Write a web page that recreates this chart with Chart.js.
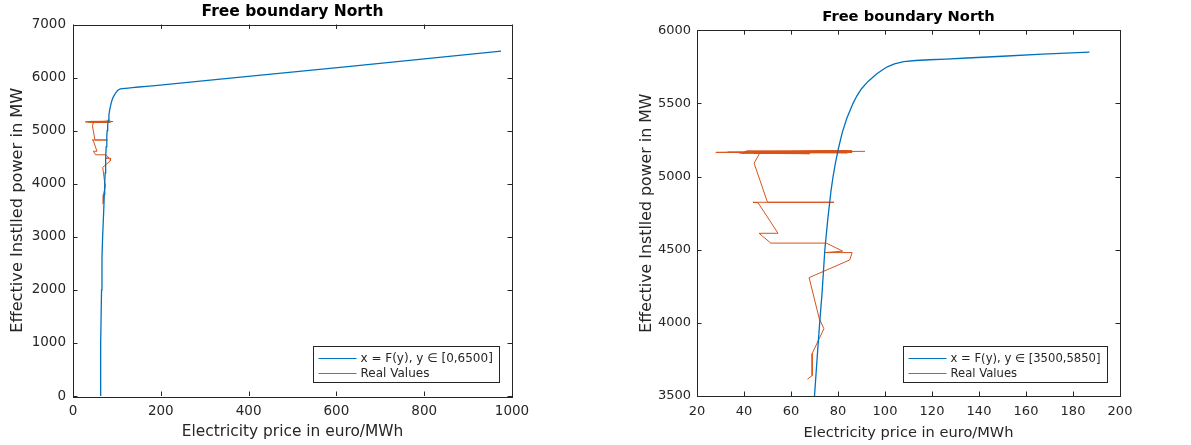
<!DOCTYPE html>
<html>
<head>
<meta charset="utf-8">
<script src="https://cdn.jsdelivr.net/npm/chart.js@4/dist/chart.umd.min.js"></script>
<style>
  body { margin: 0; background: #fff; }
  .panel { position: absolute; top: 0; height: 445px; }
  #left { left: 0; width: 560px; }
  #right { left: 615px; width: 576px; }
</style>
</head>
<body>
<div class="panel" id="left"><canvas id="chartLeft"></canvas></div>
<div class="panel" id="right"><canvas id="chartRight"></canvas></div>
<script>
// Free boundary x = F(y): price (euro/MWh) against effective installed power (MW)
const boundaryPower = [0, 400, 900, 1000, 2000, 2600, 3000, 3500, 3800, 4000, 4200, 4500, 4700, 4900, 5000,
  5100, 5200, 5300, 5400, 5500, 5550, 5600, 5650, 5700, 5730, 5750, 5770, 5785, 5793, 5798,
  5803, 5810, 5822, 5836, 5850, 6000, 6200, 6500];
const boundaryPrice = [62, 62.5, 63, 63.6, 65, 66, 67.5, 70, 71.3, 72.2, 73.2, 74.4, 75.6, 77, 77.9,
  79, 80.3, 81.8, 83.8, 86.4, 88, 90, 92.8, 96.4, 99, 101, 104, 108, 113, 119,
  126, 135, 150, 167, 187, 370, 620, 975];

// Observed (price, power) pairs, in order
const realPrice = [91.5, 28, 85, 39, 86, 40, 84, 33, 86, 44, 68, 39, 85, 41, 84, 38, 86, 46.7, 44.3, 50,
  78.3, 43.8, 46, 54.5, 46.4, 51.4, 75, 82, 74.5, 86, 85, 67.7, 72, 74, 69, 69, 67];
const realPower = [5172, 5165, 5170, 5160, 5176, 5168, 5162, 5166, 5172, 5158, 5156, 5164, 5168, 5174,
  5178, 5161, 5165, 5160, 5091, 4824, 4824, 4824, 4820, 4612, 4612, 4545, 4545, 4490, 4480, 4480,
  4430, 4309, 4030, 3960, 3790, 3640, 3615];

const TITLE = 'Free boundary North';
const X_LABEL = 'Electricity price in euro/MWh';
const Y_LABEL = 'Effective Instlled power in MW';

const BLUE = '#0072BD';
const ORANGE = '#D95319';
const INK = '#262626';
const FONT = '"DejaVu Sans", sans-serif';

function points(xs, ys, lo, hi) {
  const out = [];
  xs.forEach((x, i) => {
    if (ys[i] >= lo && ys[i] <= hi) out.push({x: x, y: ys[i]});
  });
  return out;
}

// box, inward ticks on all four sides, legend inside lower right
const matlabAxes = {
  id: 'matlabAxes',
  afterDraw(chart, args, opts) {
    const {ctx, chartArea: a, scales} = chart;
    const tl = 4.5;
    ctx.save();
    ctx.strokeStyle = INK;
    ctx.lineWidth = 1;
    ctx.strokeRect(Math.round(a.left) + .5, Math.round(a.top) + .5,
      Math.round(a.right - a.left), Math.round(a.bottom - a.top));
    ctx.beginPath();
    scales.x.ticks.forEach(t => {
      const p = Math.round(scales.x.getPixelForValue(t.value)) + .5;
      ctx.moveTo(p, a.bottom); ctx.lineTo(p, a.bottom - tl);
      ctx.moveTo(p, a.top); ctx.lineTo(p, a.top + tl);
    });
    scales.y.ticks.forEach(t => {
      const p = Math.round(scales.y.getPixelForValue(t.value)) + .5;
      ctx.moveTo(a.left, p); ctx.lineTo(a.left + tl, p);
      ctx.moveTo(a.right, p); ctx.lineTo(a.right - tl, p);
    });
    ctx.stroke();

    // legend
    const ds = chart.data.datasets;
    ctx.font = opts.legendSize + 'px ' + FONT;
    const tw = Math.max(...ds.map(d => ctx.measureText(d.label).width));
    const sample = 38;
    const w = Math.round(5 + sample + 4 + tw + 7);
    const h = 36;
    const bx = Math.round(a.right - opts.legendRight - w) + .5;
    const by = Math.round(a.bottom - opts.legendBottom - h) + .5;
    ctx.fillStyle = '#fff';
    ctx.fillRect(bx, by, w, h);
    ctx.strokeStyle = INK;
    ctx.strokeRect(bx, by, w, h);
    ds.forEach((d, i) => {
      const ly = Math.round(by + 11 + i * 15) + .5;
      ctx.strokeStyle = d.borderColor;
      ctx.beginPath();
      ctx.moveTo(bx + 5, ly);
      ctx.lineTo(bx + 5 + sample, ly);
      ctx.stroke();
      ctx.fillStyle = INK;
      ctx.textBaseline = 'middle';
      ctx.fillText(d.label, bx + 5 + sample + 4, ly);
    });
    ctx.restore();
  }
};

function makeChart(id, cfg) {
  return new Chart(document.getElementById(id), {
    type: 'scatter',
    data: {
      datasets: [{
        label: cfg.fLabel,
        data: points(boundaryPrice, boundaryPower, cfg.yMin, cfg.fMax),
        showLine: true,
        borderColor: BLUE,
        borderWidth: 1.3,
        pointRadius: 0,
        tension: 0
      }, {
        label: 'Real Values',
        data: points(realPrice, realPower, -Infinity, Infinity),
        showLine: true,
        borderColor: ORANGE,
        borderWidth: 1,
        pointRadius: 0,
        tension: 0
      }]
    },
    options: {
      responsive: true,
      maintainAspectRatio: false,
      animation: false,
      layout: { padding: { left: 0, right: cfg.padRight, top: 0, bottom: 0 } },
      plugins: {
        legend: { display: false },
        tooltip: { enabled: false },
        title: {
          display: true,
          text: TITLE,
          fullSize: false,
          color: '#000',
          font: { family: FONT, size: cfg.titleSize, weight: 'bold', lineHeight: 1 },
          padding: { top: cfg.titleTop, bottom: cfg.titleBottom }
        },
        matlabAxes: { legendSize: cfg.legendSize, legendRight: 13, legendBottom: 14 }
      },
      scales: {
        x: {
          type: 'linear',
          min: cfg.xMin, max: cfg.xMax,
          grid: { display: false, drawTicks: false },
          border: { display: false },
          ticks: {
            stepSize: cfg.xStep, autoSkip: false, maxRotation: 0,
            padding: cfg.xTickPad, color: INK,
            font: { family: FONT, size: cfg.tickSize },
            callback: v => String(v)
          },
          title: {
            display: true, text: X_LABEL, color: INK,
            font: { family: FONT, size: cfg.xLabelSize },
            padding: { top: 0, bottom: cfg.xTitlePad }
          },
          afterFit: s => { s.height = 49; }
        },
        y: {
          type: 'linear',
          min: cfg.yMin, max: cfg.yMax,
          grid: { display: false, drawTicks: false },
          border: { display: false },
          ticks: {
            stepSize: cfg.yStep, autoSkip: false,
            padding: cfg.yTickPad, color: INK,
            font: { family: FONT, size: cfg.tickSize },
            callback: v => String(v)
          },
          title: {
            display: true, text: Y_LABEL, color: INK,
            font: { family: FONT, size: cfg.yLabelSize },
            padding: { top: cfg.yTitlePad, bottom: 0 }
          },
          afterFit: s => { s.width = cfg.yWidth; }
        }
      }
    },
    plugins: [matlabAxes]
  });
}

makeChart('chartLeft', {
  fLabel: 'x = F(y), y \u2208 [0,6500]',
  xMin: 0, xMax: 1000, xStep: 200,
  yMin: 0, yMax: 7000, yStep: 1000, fMax: 6500,
  padRight: 48, yWidth: 73,
  titleSize: 15.5, titleTop: 4, titleBottom: 5,
  tickSize: 13.5, xLabelSize: 15.4, yLabelSize: 16.2, legendSize: 12,
  xTickPad: 7, xTitlePad: 4, yTickPad: 7, yTitlePad: 8.5
});

makeChart('chartRight', {
  fLabel: 'x = F(y), y \u2208 [3500,5850]',
  xMin: 20, xMax: 200, xStep: 20,
  yMin: 3500, yMax: 6000, yStep: 500, fMax: 5850,
  padRight: 71, yWidth: 82,
  titleSize: 14.7, titleTop: 10, titleBottom: 5.5,
  tickSize: 13, xLabelSize: 14.6, yLabelSize: 15.8, legendSize: 11.6,
  xTickPad: 8, xTitlePad: 3.5, yTickPad: 6, yTitlePad: 22.5
});
</script>
</body>
</html>
